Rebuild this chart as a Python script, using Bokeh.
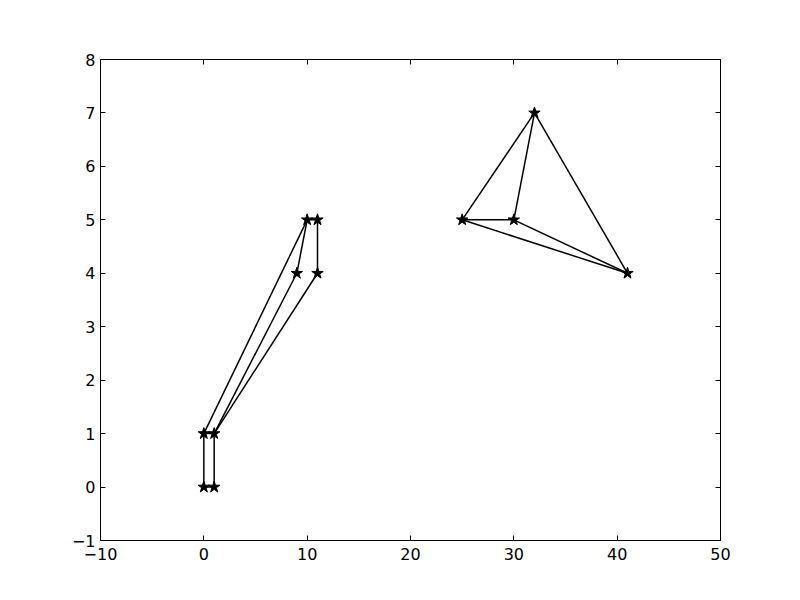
from bokeh.plotting import figure
from bokeh.models import LinearAxis, FixedTicker, Range1d
from bokeh.embed import file_html
from bokeh.resources import INLINE

# node coordinates
node_x = [0, 1, 0, 1, 9, 10, 11, 11, 25, 30, 32, 41]
node_y = [0, 0, 1, 1, 4, 5, 5, 4, 5, 5, 7, 4]
# edges as pairs of node indices
edge_a = [0, 1, 0, 2, 2, 3, 4, 3, 7, 5, 8, 10, 11, 8, 9, 9]
edge_b = [1, 3, 2, 3, 5, 4, 5, 7, 6, 6, 10, 11, 8, 9, 10, 11]

x_ticks = [-10, 0, 10, 20, 30, 40, 50]
y_ticks = [-1, 0, 1, 2, 3, 4, 5, 6, 7, 8]

p = figure(width=800, height=600, frame_width=620, frame_height=481,
           x_range=Range1d(-10, 50), y_range=Range1d(-1, 8),
           output_backend="svg", toolbar_location=None,
           min_border_left=100, min_border_right=80, min_border_top=59, min_border_bottom=60)
p.xgrid.visible = False
p.ygrid.visible = False
p.outline_line_color = "black"
p.outline_line_width = 1
p.background_fill_color = "white"
p.border_fill_color = "white"

def style(ax, ticks, labels=True):
    ax.ticker = FixedTicker(ticks=ticks)
    ax.minor_tick_line_color = None
    ax.major_tick_in = 5
    ax.major_tick_out = 0
    ax.major_tick_line_color = "black"
    ax.axis_line_color = "black"
    ax.major_label_text_font = "DejaVu Sans"
    ax.major_label_text_font_size = "16px"
    ax.major_label_text_color = "black" if labels else None
    ax.major_label_overrides = {t: ("\u2212" + str(-t) if t < 0 else str(t)) for t in ticks}

style(p.xaxis[0], x_ticks)
style(p.yaxis[0], y_ticks)
p.xaxis[0].major_label_standoff = 7
p.yaxis[0].major_label_standoff = 5

top = LinearAxis()
style(top, x_ticks, labels=False)
p.add_layout(top, "above")
right = LinearAxis()
style(right, y_ticks, labels=False)
p.add_layout(right, "right")

x0 = [node_x[i] for i in edge_a]
y0 = [node_y[i] for i in edge_a]
x1 = [node_x[i] for i in edge_b]
y1 = [node_y[i] for i in edge_b]
p.segment(x0=x0, y0=y0, x1=x1, y1=y1, line_color="black", line_width=1.5)
p.scatter(node_x, node_y, marker="star", size=12, fill_color="black", line_color="black")

open("out.html", "w").write(file_html(p, INLINE))
